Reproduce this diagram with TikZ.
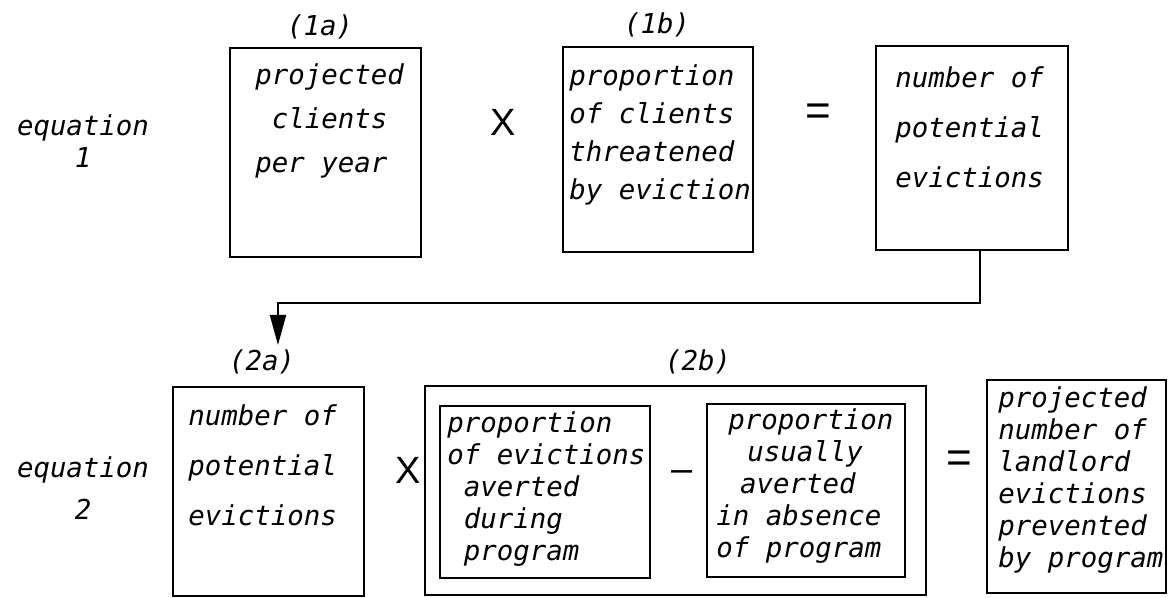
\documentclass[tikz,border=0pt]{standalone}
\usepackage{fontspec}
\setmainfont{DejaVu Sans Mono}
\newfontfamily\opfont{Liberation Sans}
\usetikzlibrary{arrows.meta}

\tikzset{
  box/.style={draw, line width=1pt, inner sep=0pt},
  txt/.style={anchor=north west, inner sep=0pt, align=left,
    font=\fontsize{13.7}{#1}\selectfont\itshape},
  txt/.default=16,
  eqn/.style={anchor=north, inner sep=0pt, align=center,
    font=\fontsize{13.7}{#1}\selectfont\itshape},
  tag/.style={inner sep=0pt, font=\fontsize{13.7}{16}\selectfont\itshape},
  op/.style={inner sep=0pt, font=\opfont\fontsize{19}{19}\selectfont},
  flow/.style={line width=1pt, -{Triangle[length=15pt,width=8pt]}}
}

\begin{document}
\begin{tikzpicture}[x=0.5pt,y=-0.5pt]
  \useasboundingbox (0,0) rectangle (1168,598);

  % equation 1
  \node[eqn=16] (eq1) at (83,114) {equation\\1};
  \node[tag] (lbl1a) at (320,27) {(1a)};
  \node[box,minimum width=95.5pt,minimum height=104.5pt] (box1a) at (325.5,152.5) {};
  \node[txt=22] (txt1a) at (255,63) {projected\\\hspace*{0.6em}clients\\per year};
  \node[op] (times1) at (503,122) {X};
  \node[tag] (lbl1b) at (657,25) {(1b)};
  \node[box,minimum width=95pt,minimum height=102.5pt] (box1b) at (658,149.5) {};
  \node[txt=19] (txt1b) at (569,64) {proportion\\of clients\\threatened\\by eviction};
  \node[op,font=\opfont\fontsize{22}{22}\selectfont] (equals1) at (818,115) {=};
  \node[box,minimum width=96pt,minimum height=102pt] (box1c) at (972,148) {};
  \node[txt=25] (txt1c) at (895,66) {number of\\potential\\evictions};

  % result of eq. 1 feeds (2a)
  \coordinate (bend) at (278,303);
  \coordinate (tip) at (278,345);
  \draw[flow] ([xshift=4pt]box1c.south) |- (bend) -- (tip);

  % equation 2
  \node[eqn=21] (eq2) at (83,456) {equation\\2};
  \node[tag] (lbl2a) at (262,362) {(2a)};
  \node[box,minimum width=95.5pt,minimum height=104.5pt] (box2a) at (268.5,491.5) {};
  \node[txt=25] (txt2a) at (188,404) {number of\\potential\\evictions};
  \node[op] (times2) at (408,470) {X};
  \node[tag] (lbl2b) at (698,362) {(2b)};
  \node[box,minimum width=250.5pt,minimum height=104.5pt] (box2b) at (675.5,490.5) {};
  \node[box,minimum width=105pt,minimum height=86pt] (during) at (545,492) {};
  \node[txt] (txtduring) at (447,411) {proportion\\of evictions\\\hspace*{0.6em}averted\\\hspace*{0.6em}during\\\hspace*{0.6em}program};
  \node[op] (minus) at (682,476) {\textendash};
  \node[box,minimum width=99pt,minimum height=86.5pt] (absence) at (806,490.5) {};
  \node[txt] (txtabsence) at (716,408) {\hspace*{0.44em}proportion\\\hspace*{1.13em}usually\\\hspace*{0.87em}averted\\in absence\\of program};
  \node[op,font=\opfont\fontsize{22}{22}\selectfont] (equals2) at (959,462) {=};
  \node[box,minimum width=89.5pt,minimum height=106.5pt] (box2c) at (1076.5,486.5) {};
  \node[txt] (txt2c) at (998,386) {projected\\number of\\landlord\\evictions\\prevented\\by program};
\end{tikzpicture}
\end{document}
